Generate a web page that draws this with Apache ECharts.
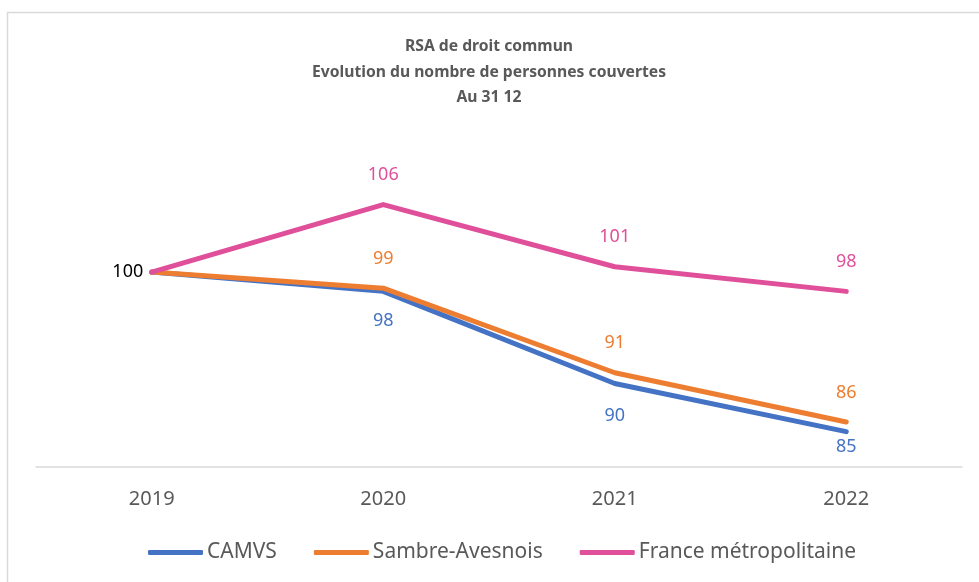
<!DOCTYPE html>
<html>
<head>
<meta charset="utf-8">
<script src="https://cdn.jsdelivr.net/npm/echarts@6/dist/echarts.min.js"></script>
<style>
  html, body { margin: 0; padding: 0; background: #fff; }
  #chart { width: 979px; height: 582px; }
</style>
</head>
<body>
<div id="chart"></div>
<script>
const years = ['2019', '2020', '2021', '2022']
const camvs = [100, 98.2, 89.6, 85.1]
const sambre = [100, 98.5, 90.6, 86.0]
const france = [100, 106.3, 100.5, 98.2]

const seriesNames = ['CAMVS', 'Sambre-Avesnois', 'France métropolitaine']
const titleLines = ['RSA de droit commun', 'Evolution du nombre de personnes couvertes', 'Au 31 12']
const colors = ['#4472C4', '#ED7D31', '#E0509A']
const font = 'Noto Sans'

// distance des étiquettes sous la courbe CAMVS
const camvsBelow = [0, 20, 23, 6]

function toData(values, idx) {
  return values.map((v, i) => {
    const item = { value: v }
    if (i === 0) {
      // seul le 100 de départ est affiché, en noir, à gauche
      item.label = idx === 1
        ? { show: true, position: 'left', distance: 8, color: '#000' }
        : { show: false }
    } else if (idx === 0) {
      item.label = { position: 'bottom', distance: camvsBelow[i] }
    }
    return item
  })
}

const myCharts = echarts.init(document.getElementById('chart'))
myCharts.setOption({
  animation: false,
  graphic: [
    {
      type: 'rect',
      shape: { x: 7.5, y: 12.5, width: 1000, height: 620 },
      style: { fill: 'none', stroke: '#D9D9D9', lineWidth: 1.5 },
      silent: true,
    },
    {
      type: 'text',
      x: 489,
      y: 34,
      silent: true,
      style: {
        text: titleLines.join('\n'),
        align: 'center',
        verticalAlign: 'top',
        fontFamily: font,
        fontSize: 15.7,
        fontWeight: 'bold',
        fill: '#595959',
        lineHeight: 25.5,
      },
    },
  ],
  legend: {
    bottom: 14,
    left: 143,
    padding: 5,
    icon: 'roundRect',
    itemWidth: 55,
    itemHeight: 5,
    itemGap: 37,
    textStyle: { fontFamily: font, fontSize: 21, color: '#595959', padding: [0, 0, 0, -1] },
    data: seriesNames,
  },
  grid: {
    left: 36,
    right: 17,
    top: 165,
    bottom: 115,
    containLabel: false,
  },
  xAxis: {
    type: 'category',
    data: years,
    boundaryGap: true,
    axisLine: { lineStyle: { color: '#D9D9D9', width: 1.5 } },
    axisTick: { show: false },
    axisLabel: { fontFamily: font, fontSize: 20, color: '#595959', margin: 22 },
  },
  yAxis: {
    type: 'value',
    min: 81.8,
    max: 110,
    show: false,
    splitLine: { show: false },
  },
  series: [camvs, sambre, france].map((vals, idx) => ({
    name: seriesNames[idx],
    type: 'line',
    data: toData(vals, idx),
    symbol: 'circle',
    symbolSize: 1,
    itemStyle: { color: colors[idx] },
    lineStyle: { color: colors[idx], width: 5, cap: 'round', join: 'round' },
    label: {
      show: true,
      position: 'top',
      distance: 20,
      color: colors[idx],
      fontFamily: font,
      fontSize: 18,
      formatter: (p) => Math.round(p.value),
    },
  })),
})
</script>
</body>
</html>
